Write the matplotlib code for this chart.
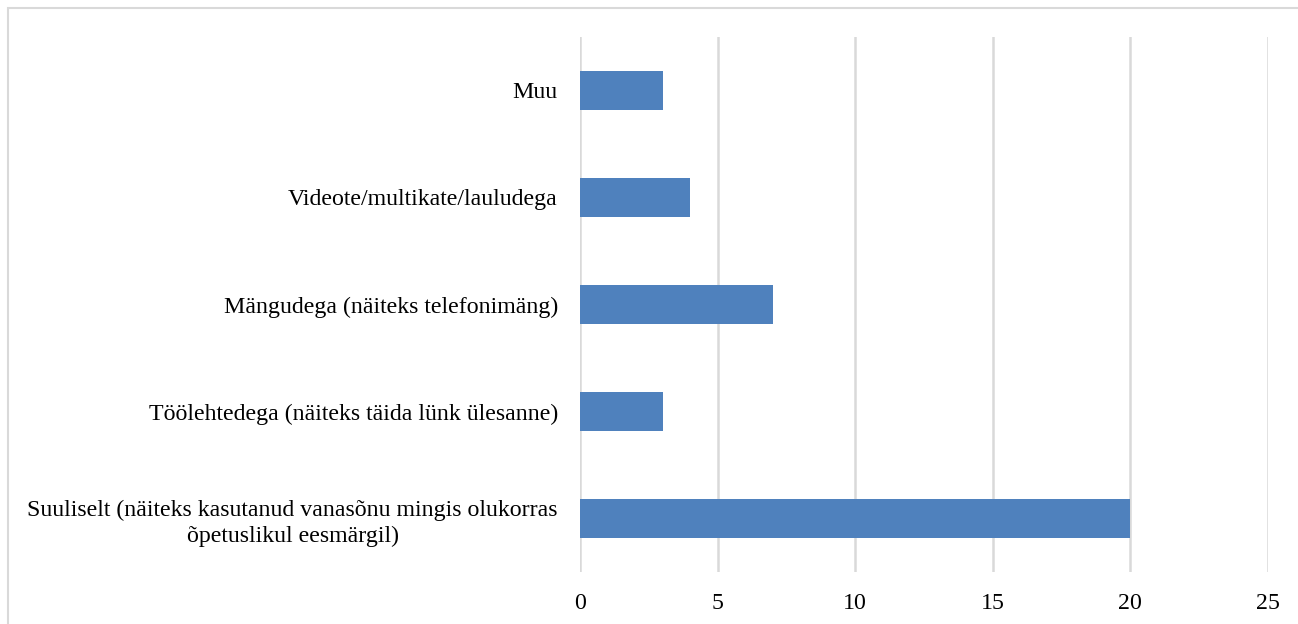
import matplotlib.pyplot as plt
from matplotlib.patches import Rectangle

# andmed
kategooriad = ["Suuliselt (näiteks kasutanud vanasõnu mingis olukorras\nõpetuslikul eesmärgil)",
               "Töölehtedega (näiteks täida lünk ülesanne)",
               "Mängudega (näiteks telefonimäng)",
               "Videote/multikate/lauludega",
               "Muu"]
vaartused = [20, 3, 7, 4, 3]
x_ticks = [0, 5, 10, 15, 20, 25]

plt.rcParams['font.family'] = ['Liberation Serif', 'DejaVu Serif']

fig = plt.figure(figsize=(12.98, 6.24), dpi=100)
ax = fig.add_axes([580/1298, 1 - 572/624, (1268 - 580)/1298, (572 - 37)/624])

pos = range(len(kategooriad))
ax.barh(pos, vaartused, height=0.36, color='#4F81BD', zorder=3)

ax.set_xlim(0, 25)
ax.set_ylim(-0.5, len(kategooriad) - 0.5)
ax.set_xticks(x_ticks)
ax.set_yticks(list(pos))
ax.set_yticklabels(kategooriad)
for lab in ax.get_yticklabels():
    lab.set_multialignment('center')
    lab.set_linespacing(1.3)

ax.tick_params(axis='both', length=0, labelsize=17.2, colors='black')
ax.tick_params(axis='y', pad=16)
ax.tick_params(axis='x', pad=15)
ax.grid(axis='x', color='#d9d9d9', linewidth=1.8, zorder=0)
for s in ax.spines.values():
    s.set_visible(False)

# raam ümber joonise
fig.patches.append(Rectangle((8/1298, -0.1), 2, 1.1 - 8/624, transform=fig.transFigure,
                             fill=False, edgecolor='#d9d9d9', linewidth=1.5))

fig.savefig('out.png', dpi=100)
